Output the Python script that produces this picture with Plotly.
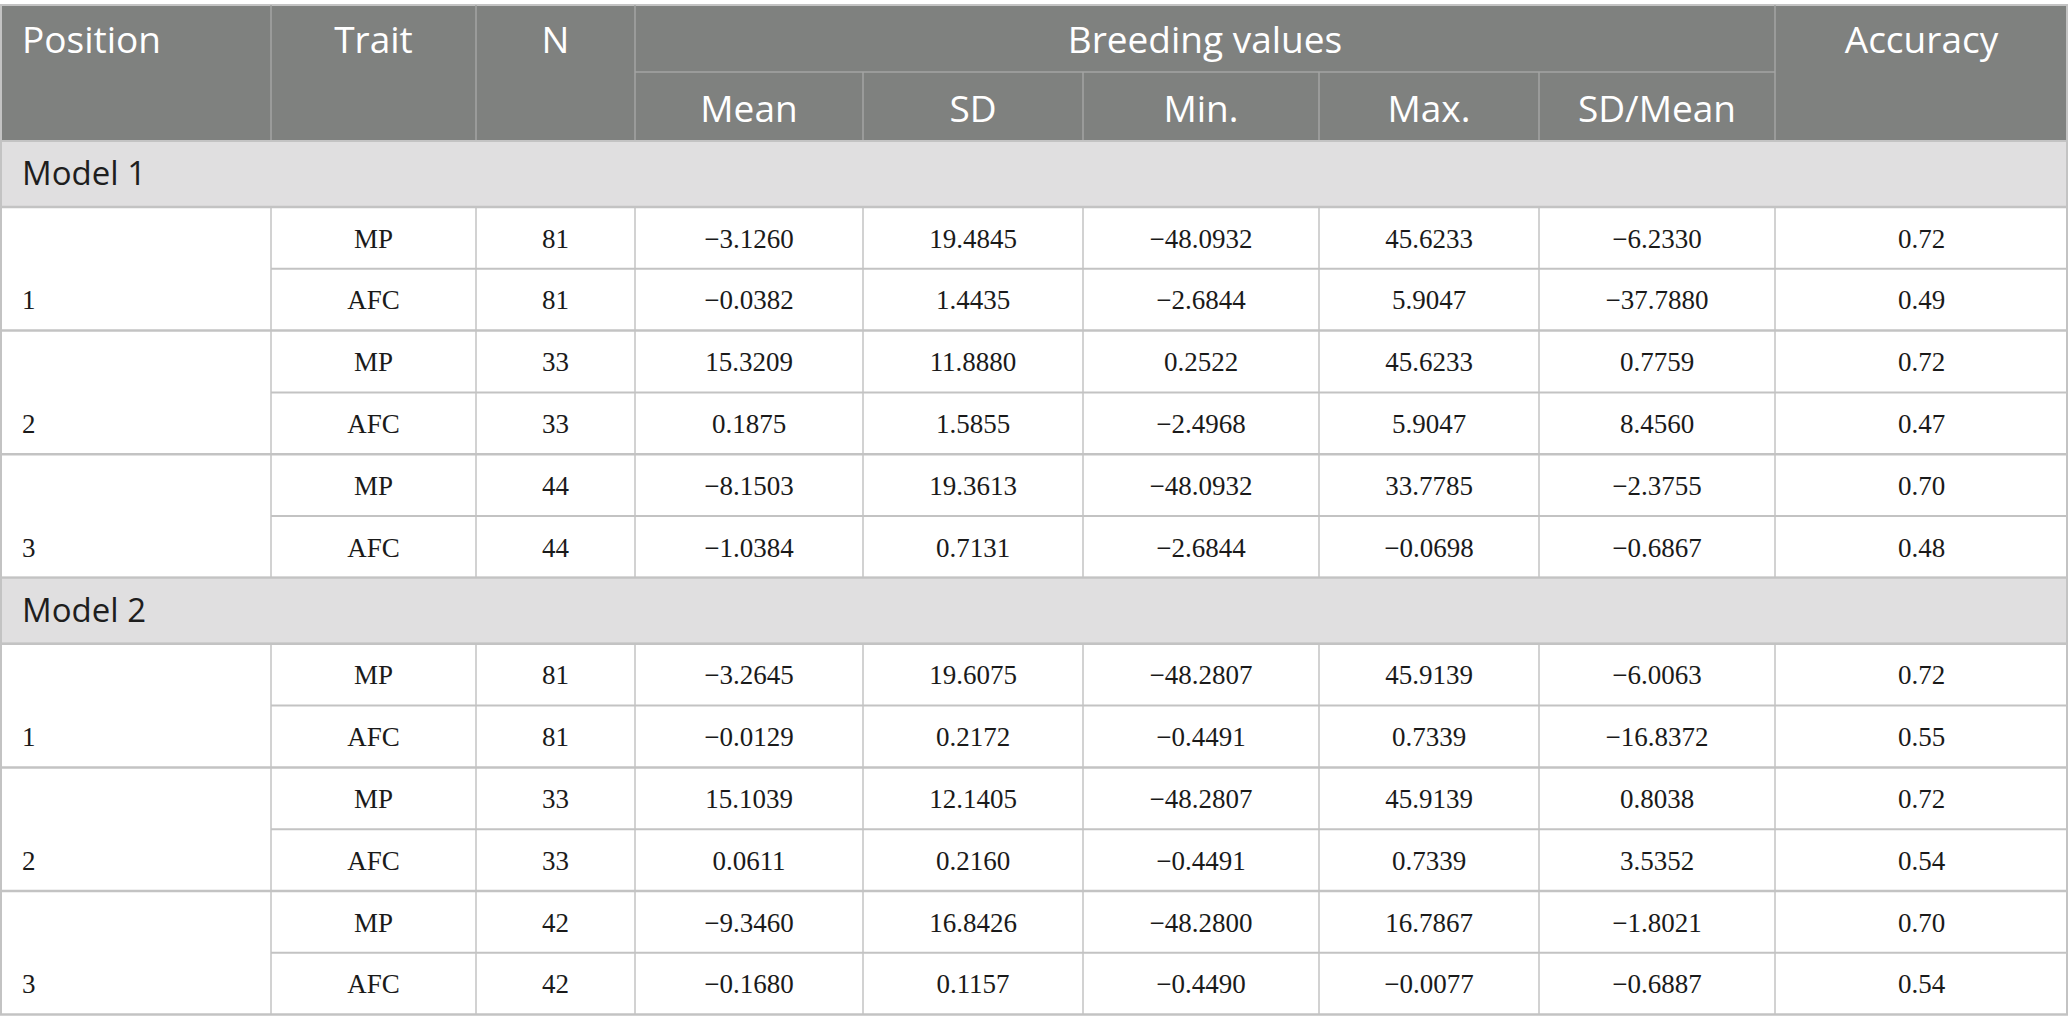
import plotly.graph_objects as go

# ---- table data ----
models = ["Model 1", "Model 2"]
positions = ["1", "2", "3"]
traits = ["MP", "AFC"]
stat_labels = ["Mean", "SD", "Min.", "Max.", "SD/Mean"]

n_model1 = [81, 81, 33, 33, 44, 44]
mean_model1 = [-3.1260, -0.0382, 15.3209, 0.1875, -8.1503, -1.0384]
sd_model1 = [19.4845, 1.4435, 11.8880, 1.5855, 19.3613, 0.7131]
min_model1 = [-48.0932, -2.6844, 0.2522, -2.4968, -48.0932, -2.6844]
max_model1 = [45.6233, 5.9047, 45.6233, 5.9047, 33.7785, -0.0698]
sdmean_model1 = [-6.2330, -37.7880, 0.7759, 8.4560, -2.3755, -0.6867]
acc_model1 = [0.72, 0.49, 0.72, 0.47, 0.70, 0.48]

n_model2 = [81, 81, 33, 33, 42, 42]
mean_model2 = [-3.2645, -0.0129, 15.1039, 0.0611, -9.3460, -0.1680]
sd_model2 = [19.6075, 0.2172, 12.1405, 0.2160, 16.8426, 0.1157]
min_model2 = [-48.2807, -0.4491, -48.2807, -0.4491, -48.2800, -0.4490]
max_model2 = [45.9139, 0.7339, 45.9139, 0.7339, 16.7867, -0.0077]
sdmean_model2 = [-6.0063, -16.8372, 0.8038, 3.5352, -1.8021, -0.6887]
acc_model2 = [0.72, 0.55, 0.72, 0.54, 0.70, 0.54]

blocks = [
    [n_model1, mean_model1, sd_model1, min_model1, max_model1, sdmean_model1, acc_model1],
    [n_model2, mean_model2, sd_model2, min_model2, max_model2, sdmean_model2, acc_model2],
]

# ---- layout (pixels) ----
W, H = 2068, 1034
col_edges = [0, 271, 476, 635, 863, 1083, 1319, 1539, 1775, 2068]
y_top, y_sub, y_head = 5, 72, 141
band_h, row_h = 66, 61.8

header_bg = "#7f817f"
band_bg = "#e0dfe0"
header_line = "#a3a4a3"
body_line = "#c3c3c3"
sans = "Open Sans"
serif = "Liberation Serif"


def fmt(v, d):
    return f"{v:.{d}f}".replace("-", "\u2212")


def mid(i):
    return (col_edges[i] + col_edges[i + 1]) / 2


shapes = []


def rect(x0, y0, x1, y1, fill):
    shapes.append(dict(type="rect", xref="x", yref="y", x0=x0, y0=y0, x1=x1, y1=y1,
                       fillcolor=fill, line_width=0, layer="below"))


def line(x0, y0, x1, y1, color, w=2):
    shapes.append(dict(type="line", xref="x", yref="y", x0=x0, y0=y0, x1=x1, y1=y1,
                       line=dict(color=color, width=w), layer="below"))


# header
rect(0, y_top, W, y_head, header_bg)
line(0, y_top, W, y_top, body_line)
for i in [1, 2, 3, 8]:
    line(col_edges[i], y_top, col_edges[i], y_head, header_line, 1.5)
for i in range(4, 8):
    line(col_edges[i], y_sub, col_edges[i], y_head, header_line, 1.5)
line(col_edges[3], y_sub, col_edges[8], y_sub, header_line, 1.5)

txt_x, txt_y, txt = [], [], []
head_x, head_y, head_t = [], [], []
head_x += [mid(1), mid(2), (col_edges[3] + col_edges[8]) / 2, mid(8)]
head_y += [44, 44, 44, 44]
head_t += ["Trait", "N", "Breeding values", "Accuracy"]
for k, lab in enumerate(stat_labels):
    head_x.append(mid(3 + k))
    head_y.append(113)
    head_t.append(lab)

band_y = []
left_x, left_y, left_t = [], [], []

y = y_head
for m, model in enumerate(models):
    rect(0, y, W, y + band_h, band_bg)
    line(0, y, W, y, body_line)
    band_y.append(y + band_h / 2 + 3)
    y += band_h
    line(0, y, W, y, body_line)
    cols = blocks[m]
    for r in range(6):
        y0 = y + r * row_h
        yc = y0 + row_h / 2 + 3
        if r % 2 == 1:
            line(col_edges[1], y0, W, y0, body_line)
            left_x.append(22)
            left_y.append(yc)
            left_t.append(positions[r // 2])
        else:
            line(0, y0, W, y0, body_line, 2.5)
        txt_x.append(mid(1)); txt_y.append(yc); txt.append(traits[r % 2])
        txt_x.append(mid(2)); txt_y.append(yc); txt.append(str(cols[0][r]))
        for k in range(1, 6):
            txt_x.append(mid(2 + k)); txt_y.append(yc); txt.append(fmt(cols[k][r], 4))
        txt_x.append(mid(8)); txt_y.append(yc); txt.append(fmt(cols[6][r], 2))
    y_end = y + 6 * row_h
    for i in range(1, 9):
        line(col_edges[i], y, col_edges[i], y_end, body_line, 1.5)
    y = y_end
    line(0, y, W, y, body_line, 2.5)

line(1, y_top, 1, y, body_line)
line(W - 1, y_top, W - 1, y, body_line)

fig = go.Figure()
fig.add_trace(go.Scatter(x=head_x, y=head_y, text=head_t, mode="text",
                         textposition="middle center",
                         textfont=dict(family=sans, size=37, color="white"),
                         hoverinfo="skip"))
fig.add_trace(go.Scatter(x=[22], y=[44], text=["Position"], mode="text",
                         textposition="middle right",
                         textfont=dict(family=sans, size=37, color="white"),
                         hoverinfo="skip"))
fig.add_trace(go.Scatter(x=[22, 22], y=band_y, text=models, mode="text",
                         textposition="middle right",
                         textfont=dict(family=sans, size=33, color="#1e1e1e"),
                         hoverinfo="skip"))
fig.add_trace(go.Scatter(x=txt_x, y=txt_y, text=txt, mode="text",
                         textposition="middle center",
                         textfont=dict(family=serif, size=27, color="#1a1a1a"),
                         hoverinfo="skip"))
fig.add_trace(go.Scatter(x=left_x, y=left_y, text=left_t, mode="text",
                         textposition="middle right",
                         textfont=dict(family=serif, size=27, color="#1a1a1a"),
                         hoverinfo="skip"))

fig.update_layout(
    width=W, height=H, autosize=False,
    margin=dict(l=0, r=0, t=0, b=0),
    paper_bgcolor="white", plot_bgcolor="white",
    showlegend=False,
    shapes=shapes,
    xaxis=dict(range=[0, W], visible=False, fixedrange=True),
    yaxis=dict(range=[H, 0], visible=False, fixedrange=True),
)

fig.write_html("out.html", config={"displayModeBar": False, "staticPlot": True},
               post_script="document.body.style.margin='0';")
